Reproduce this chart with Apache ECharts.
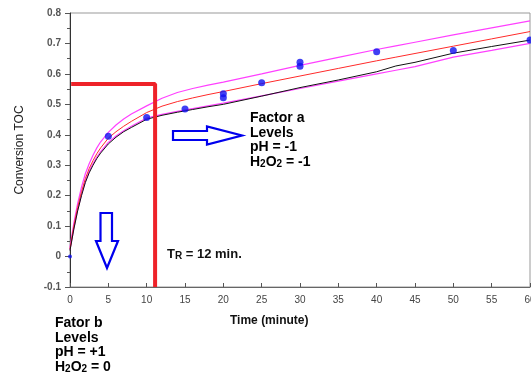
<!DOCTYPE html>
<html><head><meta charset="utf-8">
<script src="https://cdn.jsdelivr.net/npm/echarts@6/dist/echarts.min.js"></script>
<style>html,body{margin:0;padding:0;background:#fff}#c{width:531px;height:372px}</style>
</head><body><div id="c"></div>
<script>
// curve sample times (minute)
var curveX = [0,0.5,1,1.5,2,2.5,3,3.5,4,5,6,7,8,10,12,14,16,18,20,25,30,35,40,42.5,45,50,55,60];
var upperBand = [0.03,0.11,0.175,0.228,0.272,0.305,0.333,0.357,0.377,0.408,0.432,0.452,0.468,0.495,0.52,0.539,0.552,0.563,0.573,0.60,0.628,0.654,0.68,0.692,0.704,0.728,0.751,0.774];
var modelRed  = [0.025,0.1,0.162,0.213,0.256,0.289,0.315,0.338,0.357,0.389,0.41,0.428,0.444,0.473,0.494,0.509,0.521,0.532,0.542,0.568,0.593,0.618,0.643,0.655,0.667,0.691,0.715,0.739];
var fitBlack  = [0.02,0.09,0.15,0.20,0.243,0.275,0.30,0.322,0.34,0.37,0.392,0.41,0.424,0.451,0.464,0.474,0.483,0.492,0.50,0.527,0.555,0.58,0.607,0.626,0.638,0.668,0.69,0.711];
var lowerBand = [0.022,0.092,0.153,0.204,0.247,0.28,0.305,0.327,0.345,0.375,0.396,0.413,0.428,0.455,0.467,0.477,0.486,0.495,0.504,0.528,0.552,0.576,0.60,0.612,0.624,0.655,0.677,0.70];
// experimental points
var pointX = [0,5,10,15,20,20,25,30,30,40,50,60];
var pointY = [0,0.395,0.457,0.485,0.522,0.535,0.571,0.625,0.638,0.673,0.677,0.711];
// residence time marker (TR)
var trX = [0.15,11.1,11.1];
var trY = [0.567,0.567,-0.1];
// tick labels
var xTicks = [0,5,10,15,20,25,30,35,40,45,50,55,60];
var yTicks = [-0.1,0,0.1,0.2,0.3,0.4,0.5,0.6,0.7,0.8];

function zip(a,b){return a.map(function(v,i){return [v,b[i]];});}

var chart = echarts.init(document.getElementById('c'));
var F = 'Liberation Sans, Arial, sans-serif';
var txt = {fontFamily:F, fontSize:14, fontWeight:'bold', fill:'#000', lineHeight:14.5,
  rich:{n:{fontFamily:F,fontSize:14,fontWeight:'bold',lineHeight:14.5,verticalAlign:'bottom'},
        s:{fontFamily:F,fontSize:10,fontWeight:'bold',lineHeight:14.5,verticalAlign:'bottom'}}};
chart.setOption({
  animation:false,
  grid:{left:70,right:1,top:13,bottom:85,containLabel:false,outerBoundsMode:'none',
    show:true,borderColor:'#999',borderWidth:1},
  xAxis:{type:'value',min:0,max:60,interval:5,
    axisLine:{show:true,onZero:false,lineStyle:{color:'#666'}},
    axisTick:{show:true,inside:true,length:4,lineStyle:{color:'#555'}},
    splitLine:{show:false},
    axisLabel:{margin:8,fontFamily:F,fontSize:10,color:'#444',
      formatter:function(v){return xTicks.indexOf(v)>=0?String(v):'';}}},
  yAxis:{type:'value',min:-0.1,max:0.8,interval:0.1,
    name:'Conversion TOC',nameLocation:'middle',nameGap:44,
    nameTextStyle:{fontFamily:'Liberation Sans Narrow, Liberation Sans, Arial',fontSize:12,color:'#222'},
    axisLine:{show:true,onZero:false,lineStyle:{color:'#333'}},
    axisTick:{show:true,length:5,lineStyle:{color:'#555'}},
    minorTick:{show:true,splitNumber:2,length:3,lineStyle:{color:'#555'}},
    splitLine:{show:false},
    axisLabel:{margin:9,fontFamily:F,fontSize:10,color:'#555',fontWeight:'bold',
      formatter:function(v){var r=Math.round(v*10)/10; return r===0?'0':r.toFixed(1);}}},
  series:[
    {type:'line',data:zip(curveX,upperBand),symbol:'none',lineStyle:{color:'#ff40ff',width:1.2},z:2},
    {type:'line',data:zip(curveX,lowerBand),symbol:'none',lineStyle:{color:'#ff40ff',width:1.2},z:2},
    {type:'line',data:zip(curveX,modelRed),symbol:'none',lineStyle:{color:'#ff2a2a',width:1},z:3},
    {type:'line',data:zip(curveX,fitBlack),symbol:'none',lineStyle:{color:'#111',width:1},z:3},
    {type:'line',data:zip(trX,trY),symbol:'none',lineStyle:{color:'#ee2229',width:4,cap:'butt'},z:4},
    {type:'scatter',data:zip(pointX,pointY),symbol:'circle',
      symbolSize:function(v){return v[0]===0?4:7;},itemStyle:{color:'#1010f0'},z:5}
  ],
  graphic:[
    {type:'polygon',z:10,shape:{points:[[173,131],[207,131],[207,126.5],[242,135.5],[207,144.5],[207,140],[173,140]]},
      style:{fill:'#fff',stroke:'#0000ee',lineWidth:2.2}},
    {type:'polygon',z:10,shape:{points:[[100.5,213],[112,213],[112,241],[118,241],[107,268],[96,241],[100.5,241]]},
      style:{fill:'#fff',stroke:'#0000ee',lineWidth:2.2}},
    {type:'text',z:11,left:250,top:111,style:Object.assign({},txt,{text:'{n|Factor a}\n{n|Levels}\n{n|pH = -1}\n{n|H}{s|2}{n|O}{s|2}{n| = -1}'})},
    {type:'text',z:11,left:55,top:316,style:Object.assign({},txt,{text:'{n|Fator b}\n{n|Levels}\n{n|pH = +1}\n{n|H}{s|2}{n|O}{s|2}{n| = 0}'})},
    {type:'text',z:11,left:167,top:248,style:{fontFamily:F,fontWeight:'bold',fill:'#111',
      text:'{a|T}{b|R}{a| = 12 min.}',
      rich:{a:{fontFamily:F,fontSize:13,fontWeight:'bold',lineHeight:14,verticalAlign:'bottom'},
            b:{fontFamily:F,fontSize:10,fontWeight:'bold',lineHeight:14,verticalAlign:'bottom'}}}},
    {type:'text',z:11,left:230,top:315,style:{fontFamily:F,fontSize:12,fontWeight:'bold',fill:'#111',text:'Time (minute)'}}
  ]
});
</script></body></html>
